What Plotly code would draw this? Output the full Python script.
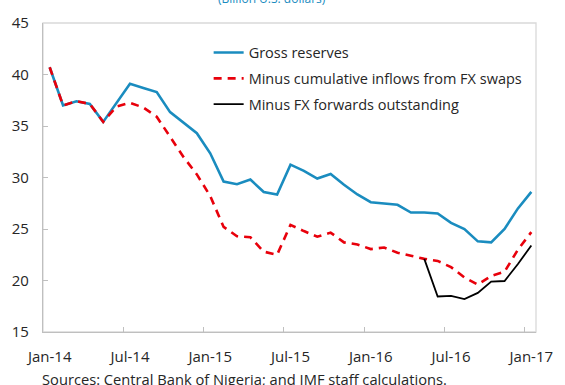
import plotly.graph_objects as go

# Monthly observations, Jan-2014 through Jan-2017 (billion U.S. dollars)
months = list(range(37))
tick_labels = ["Jan-14", "Jul-14", "Jan-15", "Jul-15", "Jan-16", "Jul-16", "Jan-17"]

gross_reserves = [40.7, 37.0, 37.4, 37.15, 35.4, 37.3, 39.1, 38.7, 38.3, 36.35,
                  35.3, 34.3, 32.35, 29.6, 29.35, 29.8, 28.6, 28.35, 31.25, 30.65,
                  29.9, 30.35, 29.3, 28.35, 27.6, 27.5, 27.35, 26.6, 26.6, 26.5,
                  25.6, 25.0, 23.8, 23.7, 25.0, 27.0, 28.6]

minus_swaps = [40.7, 37.0, 37.4, 37.15, 35.4, 36.9, 37.25, 36.8, 35.9, 33.9,
               32.0, 30.3, 28.2, 25.2, 24.3, 24.2, 22.8, 22.5, 25.4, 24.8,
               24.25, 24.65, 23.7, 23.5, 23.05, 23.2, 22.7, 22.4, 22.1, 21.9,
               21.3, 20.3, 19.6, 20.45, 20.85, 23.0, 24.7]

minus_forwards = [None] * 28 + [22.1, 18.45, 18.5, 18.2, 18.8, 19.9, 19.95, 21.6, 23.4]

BLUE = "#1A8CBF"
RED = "#E8000B"
AXIS = "#BFBFBF"
TEXT = "#262626"

fig = go.Figure()
fig.add_trace(go.Scatter(x=months, y=gross_reserves, mode="lines", name="Gross reserves",
                         legendgroup="a", line=dict(color=BLUE, width=2.6)))
fig.add_trace(go.Scatter(x=months, y=minus_swaps, mode="lines",
                         name="Minus cumulative inflows from FX swaps", legendgroup="b",
                         line=dict(color=RED, width=2.6, dash="8px,6px")))
fig.add_trace(go.Scatter(x=months, y=minus_forwards, mode="lines",
                         name="Minus FX forwards outstanding", legendgroup="c",
                         line=dict(color="black", width=1.8)))

# light frame along the top and right of the plotting area
fig.add_shape(type="rect", xref="paper", yref="paper", x0=0, x1=1, y0=0, y1=1,
              line=dict(color="#D9D9D9", width=1.3), layer="below")

fig.add_annotation(text="(Billion U.S. dollars)", xref="paper", yref="paper",
                   x=0.465, y=1.046, xanchor="center", yanchor="bottom", showarrow=False,
                   font=dict(size=12, color=BLUE))
fig.add_annotation(text="Sources: Central Bank of Nigeria; and IMF staff calculations.",
                   xref="paper", yref="paper", x=-0.006, y=-0.152, xanchor="left",
                   yanchor="middle", showarrow=False, font=dict(size=14.7, color=TEXT))

fig.update_layout(
    width=565, height=385,
    margin=dict(l=42, r=18, t=17, b=53),
    plot_bgcolor="white", paper_bgcolor="white",
    font=dict(family="Open Sans", size=14.7, color=TEXT),
    showlegend=True,
    legend=dict(x=0.336, y=0.956, xanchor="left", yanchor="top", bgcolor="rgba(0,0,0,0)",
                traceorder="grouped", tracegroupgap=4, font=dict(size=14.5, color=TEXT)),
    xaxis=dict(range=[-0.5, 36.35], tickmode="array", tickvals=list(range(0, 37, 6)),
               ticktext=tick_labels, ticks="", showline=True, linecolor=AXIS, linewidth=1.3,
               showgrid=False, zeroline=False, ticklabelstandoff=11,
               tickfont=dict(size=15),
               minor=dict(tickmode="array", tickvals=[5.5, 11.5, 17.5, 23.5, 29.5, 35.5],
                          ticks="inside", ticklen=5, tickcolor=AXIS, tickwidth=1, showgrid=False)),
    yaxis=dict(range=[15, 45], dtick=5, tick0=15, ticks="inside", ticklen=5, tickcolor=AXIS,
               showline=True, linecolor=AXIS, linewidth=1.3, showgrid=False, zeroline=False,
               ticklabelstandoff=10, tickfont=dict(size=15)),
)

fig.write_html("out.html")
